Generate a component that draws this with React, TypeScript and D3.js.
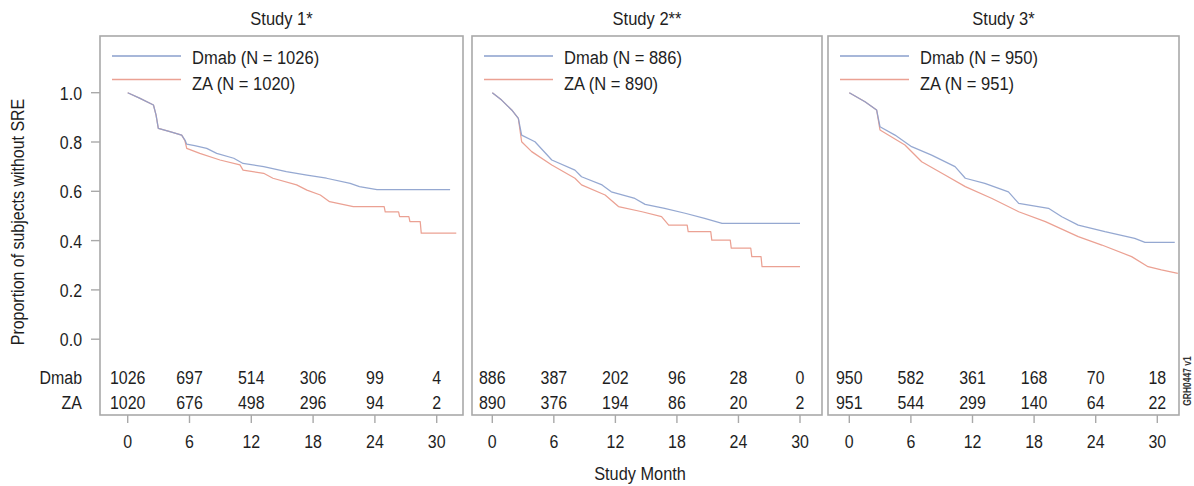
import { useEffect, useRef } from "react";
import * as d3 from "d3";

// ---- data ----
const studyTitles = [ "Study 1*", "Study 2**", "Study 3*" ];
const dmabN = [ 1026, 886, 950 ];
const zaN = [ 1020, 890, 951 ];
const monthTicks = [ 0, 6, 12, 18, 24, 30 ];
const propTicks = [ 0, 0.2, 0.4, 0.6, 0.8, 1.0 ];

const dmabAtRisk = [
    [ 1026, 697, 514, 306, 99, 4 ],
    [ 886, 387, 202, 96, 28, 0 ],
    [ 950, 582, 361, 168, 70, 18 ],
];
const zaAtRisk = [
    [ 1020, 676, 498, 296, 94, 2 ],
    [ 890, 376, 194, 86, 20, 2 ],
    [ 951, 544, 299, 140, 64, 22 ],
];

// [month, proportion without SRE]
const dmabStudy1: [ number, number ][] = [
    [ 0, 1.0 ], [ 1.2, 0.977 ], [ 2.5, 0.95 ], [ 2.75, 0.91 ], [ 2.97, 0.855 ], [ 4.1, 0.842 ], [ 5.24, 0.828 ],
    [ 5.56, 0.808 ], [ 5.73, 0.791 ], [ 6.5, 0.785 ], [ 7.67, 0.774 ], [ 8.64, 0.754 ], [ 10.3, 0.734 ], [ 11.2, 0.713 ],
    [ 13.2, 0.7 ], [ 15.4, 0.68 ], [ 17.4, 0.666 ], [ 19.3, 0.653 ], [ 21.6, 0.632 ], [ 22.5, 0.619 ], [ 24.2, 0.607 ],
    [ 31.3, 0.607 ],
];
const zaStudy1: [ number, number ][] = [
    [ 0, 1.0 ], [ 1.2, 0.977 ], [ 2.5, 0.95 ], [ 2.75, 0.91 ], [ 2.97, 0.855 ], [ 4.1, 0.842 ], [ 5.24, 0.828 ],
    [ 5.56, 0.805 ], [ 5.73, 0.774 ], [ 7.0, 0.754 ], [ 8.96, 0.727 ], [ 10.9, 0.707 ], [ 11.2, 0.686 ], [ 13.2, 0.673 ],
    [ 14.1, 0.653 ], [ 16.4, 0.626 ], [ 17.4, 0.605 ], [ 18.7, 0.585 ], [ 19.6, 0.558 ], [ 21.9, 0.538 ], [ 24.9, 0.538 ],
    [ 25.0, 0.517 ], [ 26.3, 0.517 ], [ 26.4, 0.497 ], [ 27.3, 0.497 ], [ 27.4, 0.477 ], [ 28.4, 0.477 ], [ 28.5, 0.43 ],
    [ 31.9, 0.43 ],
];
const dmabStudy2: [ number, number ][] = [
    [ 0, 1.0 ], [ 0.91, 0.97 ], [ 1.89, 0.93 ], [ 2.54, 0.896 ], [ 2.86, 0.828 ], [ 4.16, 0.801 ], [ 5.8, 0.727 ],
    [ 8.06, 0.686 ], [ 8.7, 0.659 ], [ 10.7, 0.626 ], [ 11.6, 0.598 ], [ 13.9, 0.571 ], [ 14.9, 0.547 ], [ 16.8, 0.531 ],
    [ 18.8, 0.511 ], [ 20.7, 0.49 ], [ 22.4, 0.47 ], [ 30.0, 0.47 ],
];
const zaStudy2: [ number, number ][] = [
    [ 0, 1.0 ], [ 0.91, 0.97 ], [ 1.89, 0.93 ], [ 2.54, 0.896 ], [ 2.86, 0.801 ], [ 3.84, 0.761 ], [ 5.8, 0.707 ],
    [ 8.06, 0.653 ], [ 8.7, 0.626 ], [ 11.0, 0.585 ], [ 12.3, 0.538 ], [ 14.6, 0.517 ], [ 16.5, 0.497 ], [ 17.2, 0.463 ],
    [ 19.0, 0.463 ], [ 19.1, 0.436 ], [ 21.3, 0.436 ], [ 21.4, 0.402 ], [ 23.2, 0.402 ], [ 23.3, 0.369 ], [ 25.2, 0.369 ],
    [ 25.3, 0.335 ], [ 26.2, 0.335 ], [ 26.3, 0.294 ], [ 30.0, 0.294 ],
];
const dmabStudy3: [ number, number ][] = [
    [ 0, 1.0 ], [ 1.53, 0.963 ], [ 2.66, 0.93 ], [ 2.99, 0.862 ], [ 4.45, 0.828 ], [ 6.07, 0.781 ], [ 8.02, 0.747 ],
    [ 10.3, 0.7 ], [ 11.3, 0.653 ], [ 13.2, 0.632 ], [ 15.5, 0.598 ], [ 16.5, 0.551 ], [ 19.4, 0.531 ], [ 20.7, 0.497 ],
    [ 22.3, 0.463 ], [ 24.9, 0.436 ], [ 27.8, 0.409 ], [ 28.8, 0.393 ], [ 31.7, 0.393 ],
];
const zaStudy3: [ number, number ][] = [
    [ 0, 1.0 ], [ 1.53, 0.963 ], [ 2.66, 0.93 ], [ 2.99, 0.849 ], [ 5.42, 0.788 ], [ 7.05, 0.72 ], [ 9.32, 0.666 ],
    [ 11.3, 0.619 ], [ 13.9, 0.571 ], [ 16.5, 0.517 ], [ 19.1, 0.477 ], [ 22.3, 0.416 ], [ 24.6, 0.382 ], [ 27.5, 0.335 ],
    [ 29.1, 0.294 ], [ 30.4, 0.281 ], [ 32.0, 0.267 ],
];

const dmabCurves = [ dmabStudy1, dmabStudy2, dmabStudy3 ];
const zaCurves = [ zaStudy1, zaStudy2, zaStudy3 ];

// ---- layout ----
const PANELS = [
    { left: 100, right: 463, x0: 127.7, x30: 436.7 },
    { left: 472, right: 822, x0: 492.3, x30: 800 },
    { left: 828, right: 1179, x0: 849.3, x30: 1157.3 },
];
const TOP = 36, BOTTOM = 415;
const FONT = "'Liberation Sans', Arial, Helvetica, sans-serif";
const INK = "#1e1e1e";
const FRAME = "#a9a9a9";
const DMAB = "#8a9fcc";
const ZA = "#eba193";
const SX = 0.84;

export default function App ()
{
    const svgRef = useRef<SVGSVGElement>( null );

    useEffect( () =>
    {
        if ( !svgRef.current ) return;
        const svg = d3.select( svgRef.current );
        svg.selectAll( "*" ).remove();

        const y = d3.scaleLinear().domain( [ 0, 1 ] ).range( [ 339.2, 92.7 ] );

        const label = ( g: any, x: number, yy: number, s: string, anchor = "middle", size = 19, sx = SX, rot = 0 ) =>
            g.append( "text" )
                .attr( "transform", `translate(${ x },${ yy })${ rot ? ` rotate(${ rot })` : "" } scale(${ sx },1)` )
                .attr( "text-anchor", anchor ).attr( "font-size", size ).attr( "font-family", FONT )
                .attr( "fill", INK ).text( s );

        PANELS.forEach( ( p, i ) =>
        {
            const g = svg.append( "g" );
            const x = d3.scaleLinear().domain( [ 0, 30 ] ).range( [ p.x0, p.x30 ] );

            // Title
            label( g, ( p.left + p.right ) / 2, 25, studyTitles[ i ], "middle", 19, 0.87 );

            // Frame
            g.append( "rect" ).attr( "x", p.left ).attr( "y", TOP )
                .attr( "width", p.right - p.left ).attr( "height", BOTTOM - TOP )
                .attr( "fill", "none" ).attr( "stroke", FRAME ).attr( "stroke-width", 1.6 );

            // X ticks
            g.selectAll( ".xt" ).data( monthTicks ).join( "line" )
                .attr( "x1", ( d: number ) => x( d ) ).attr( "x2", ( d: number ) => x( d ) )
                .attr( "y1", BOTTOM ).attr( "y2", BOTTOM + 8 )
                .attr( "stroke", FRAME ).attr( "stroke-width", 1.4 );
            monthTicks.forEach( ( t ) => label( g, x( t ), 448, String( t ) ) );

            // Curves
            const line = d3.line<[ number, number ]>().x( ( d ) => x( d[ 0 ] ) ).y( ( d ) => y( d[ 1 ] ) );
            g.append( "path" ).datum( zaCurves[ i ] ).attr( "d", line ).attr( "fill", "none" )
                .attr( "stroke", ZA ).attr( "stroke-width", 1.25 ).attr( "stroke-linejoin", "round" );
            g.append( "path" ).datum( dmabCurves[ i ] ).attr( "d", line ).attr( "fill", "none" )
                .attr( "stroke", DMAB ).attr( "stroke-width", 1.25 ).attr( "stroke-opacity", 0.9 ).attr( "stroke-linejoin", "round" );

            // Legend
            const lg = [ { name: "Dmab", n: dmabN[ i ], c: DMAB, ly: 56, ty: 64 }, { name: "ZA", n: zaN[ i ], c: ZA, ly: 79.5, ty: 89.5 } ];
            lg.forEach( ( e ) =>
            {
                g.append( "line" ).attr( "x1", p.left + 12 ).attr( "x2", p.left + 81 )
                    .attr( "y1", e.ly ).attr( "y2", e.ly )
                    .attr( "stroke", e.c ).attr( "stroke-width", 1.3 );
                label( g, p.left + 92, e.ty, `${ e.name } (N = ${ e.n })`, "start", 19, 0.87 );
            } );

            // Numbers at risk
            dmabAtRisk[ i ].forEach( ( v, k ) => label( g, x( monthTicks[ k ] ), 384, String( v ) ) );
            zaAtRisk[ i ].forEach( ( v, k ) => label( g, x( monthTicks[ k ] ), 409, String( v ) ) );
        } );

        // Y axis (first panel only)
        const ya = svg.append( "g" );
        ya.selectAll( "line" ).data( propTicks ).join( "line" )
            .attr( "x1", PANELS[ 0 ].left - 9 ).attr( "x2", PANELS[ 0 ].left )
            .attr( "y1", ( d: number ) => y( d ) ).attr( "y2", ( d: number ) => y( d ) )
            .attr( "stroke", FRAME ).attr( "stroke-width", 1.4 );
        propTicks.forEach( ( t ) => label( ya, 82, y( t ) + 7, d3.format( ".1f" )( t ), "end" ) );

        label( svg, 24, 222, "Proportion of subjects without SRE", "middle", 19, 0.84, -90 );
        label( svg, 82, 384, "Dmab", "end" );
        label( svg, 82, 409, "ZA", "end" );
        label( svg, 640, 480, "Study Month", "middle", 19, 0.86 );

        svg.append( "text" )
            .attr( "transform", "translate(1191,381) rotate(-90) scale(0.85,1)" )
            .attr( "text-anchor", "middle" ).attr( "font-size", 10 ).attr( "font-weight", "bold" )
            .attr( "font-family", FONT ).attr( "fill", "#333" ).text( "GRH0447 v1" );
    }, [] );

    return (
        <svg ref={ svgRef } width={ 1194 } height={ 486 }
            style={ { position: "absolute", left: 0, top: 0, background: "#fff" } } />
    );
}
